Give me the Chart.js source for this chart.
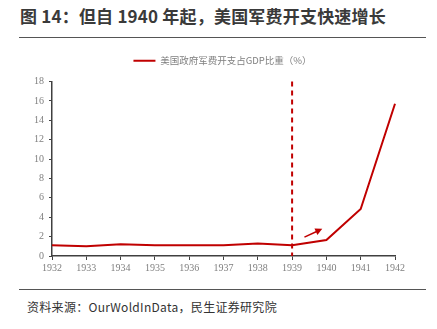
<!DOCTYPE html>
<html>
<head>
<meta charset="utf-8">
<script src="https://cdn.jsdelivr.net/npm/chart.js@4"></script>
<style>
  body { margin: 0; width: 437px; height: 329px; background: #fff; position: relative; overflow: hidden; font-family: "Noto Sans CJK SC", sans-serif; }
  #title { position: absolute; left: 20px; top: 3px; font-size: 17px; font-weight: bold; color: #3a3a3a; white-space: nowrap; letter-spacing: 0.2px; }
  .rule { position: absolute; left: 19px; width: 407px; height: 1px; background: #555; }
  #chartBox { position: absolute; left: 0; top: 40px; width: 437px; height: 240px; }
  #source { position: absolute; left: 27px; top: 298px; font-size: 12px; color: #333; white-space: nowrap; letter-spacing: 0.3px; }
</style>
</head>
<body>
<div id="title">图 14：但自 1940 年起，美国军费开支快速增长</div>
<div class="rule" style="top:37px"></div>
<div id="chartBox"><canvas id="myChart" width="437" height="240"></canvas></div>
<div class="rule" style="top:289px"></div>
<div id="source">资料来源：OurWoldInData，民生证券研究院</div>
<script>
'use strict';
let years = ['1932', '1933', '1934', '1935', '1936', '1937', '1938', '1939', '1940', '1941', '1942'];
let milShare = [1.1, 1.0, 1.2, 1.1, 1.1, 1.1, 1.3, 1.1, 1.65, 4.85, 15.7];
let seriesName = '美国政府军费开支占GDP比重（%）';
let markYear = '1939';
// arrow in data units (x = category index, y = value)
let arrowFrom = [7.36, 1.95];
let arrowTo = [7.88, 2.8];
let red = '#C00000';

let markPlugin = {
    id: 'mark',
    afterLayout(chart) {
        // centre the legend over the plot area, and lift it back up over the top padding
        chart.legend.left = chart.chartArea.left - 2;
        chart.legend.top -= 6;
        chart.legend.bottom -= 6;
    },
    afterDatasetsDraw(chart) {
        let ctx = chart.ctx;
        let xs = chart.scales.x;
        let ys = chart.scales.y;
        let x = xs.getPixelForValue(years.indexOf(markYear));
        ctx.save();
        ctx.strokeStyle = red;
        ctx.lineWidth = 2;
        ctx.setLineDash([5, 4]);
        ctx.beginPath();
        ctx.moveTo(x, ys.getPixelForValue(18));
        ctx.lineTo(x, ys.getPixelForValue(0));
        ctx.stroke();
        ctx.setLineDash([]);

        let x1 = xs.getPixelForValue(arrowFrom[0]), y1 = ys.getPixelForValue(arrowFrom[1]);
        let x2 = xs.getPixelForValue(arrowTo[0]), y2 = ys.getPixelForValue(arrowTo[1]);
        let ang = Math.atan2(y2 - y1, x2 - x1);
        ctx.lineWidth = 1.5;
        ctx.beginPath();
        ctx.moveTo(x1, y1);
        ctx.lineTo(x2 - 5 * Math.cos(ang), y2 - 5 * Math.sin(ang));
        ctx.stroke();
        ctx.fillStyle = red;
        ctx.beginPath();
        ctx.moveTo(x2, y2);
        ctx.lineTo(x2 - 7 * Math.cos(ang) + 3.5 * Math.sin(ang), y2 - 7 * Math.sin(ang) - 3.5 * Math.cos(ang));
        ctx.lineTo(x2 - 7 * Math.cos(ang) - 3.5 * Math.sin(ang), y2 - 7 * Math.sin(ang) + 3.5 * Math.cos(ang));
        ctx.closePath();
        ctx.fill();
        ctx.restore();
    }
};

let tickFont = { family: '"Liberation Serif", serif', size: 10 };
let ctx = document.getElementById('myChart').getContext('2d');
let myChart = new Chart(ctx, {
    type: 'line',
    data: {
        labels: years,
        datasets: [{
            label: seriesName,
            data: milShare,
            borderColor: red,
            backgroundColor: red,
            borderWidth: 2,
            pointRadius: 0,
            pointStyle: 'line',
            tension: 0
        }]
    },
    options: {
        responsive: false,
        animation: false,
        layout: { padding: { left: 0, right: 42, top: 6, bottom: 0 } },
        plugins: {
            legend: {
                labels: {
                    usePointStyle: true,
                    pointStyleWidth: 22,
                    boxHeight: 8,
                    color: '#7f7f7f',
                    font: { family: '"Noto Sans CJK SC", sans-serif', size: 9.5 },
                    padding: 16
                }
            },
            tooltip: { enabled: false }
        },
        scales: {
            x: {
                offset: false,
                grid: { drawOnChartArea: false, color: '#404040', tickLength: 4 },
                border: { color: '#404040', width: 1.5 },
                ticks: { color: '#7f7f7f', font: tickFont, maxRotation: 0, padding: 2 },
                afterFit(scale) { scale.height = 24; }
            },
            y: {
                min: 0,
                max: 18,
                grid: { drawOnChartArea: false, color: '#404040', tickLength: 3 },
                border: { color: '#404040', width: 1.5 },
                ticks: { stepSize: 2, color: '#7f7f7f', font: tickFont, padding: 5 },
                afterFit(scale) { scale.width = 52; }
            }
        }
    },
    plugins: [markPlugin]
});
</script>
</body>
</html>
